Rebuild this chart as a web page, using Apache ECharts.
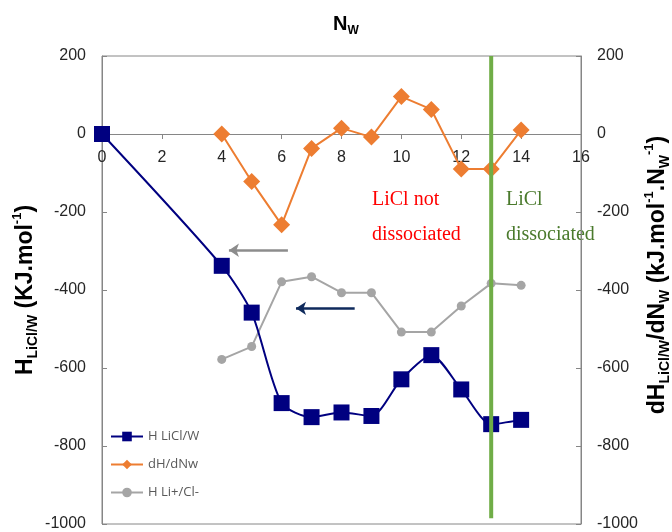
<!DOCTYPE html>
<html>
<head>
<meta charset="utf-8">
<script src="https://cdn.jsdelivr.net/npm/echarts@6/dist/echarts.min.js"></script>
<style>
  html, body { margin: 0; padding: 0; background: #fff; }
  #chart { width: 672px; height: 532px; }
</style>
</head>
<body>
<div id="chart"></div>
<script>
// data
const nwAll = [0, 4, 5, 6, 7, 8, 9, 10, 11, 12, 13, 14];
const hLiClW = [0, -338, -458, -690, -726, -714, -723, -629, -567, -655, -744, -733];
const nwFrom4 = [4, 5, 6, 7, 8, 9, 10, 11, 12, 13, 14];
const dHdNw = [0, -122, -233, -37, 15, -8, 96, 63, -90, -90, 10];
const hLiIons = [-578, -545, -379, -366, -407, -407, -508, -508, -441, -383, -388];
const dissociationNw = 13;
const seriesNames = ['H LiCl/W', 'dH/dNw', 'H Li+/Cl-'];

const pairs = (xs, ys) => xs.map((x, i) => [x, ys[i]]);

const axisGray = '#868686';
const tickFont = { fontFamily: 'Liberation Sans', fontSize: 16, color: '#262626' };

// grid box; the x axis sits on y = 0, so it is shifted up from the bottom edge
const gridTop = 56;
const gridBottom = 8;
const gridHeight = 532 - gridTop - gridBottom;
const yMin = -1000;
const yMax = 200;
const xAxisShift = -gridHeight * (0 - yMin) / (yMax - yMin);

const makeRich = size => ({
  b: { fontFamily: 'Liberation Sans', fontWeight: 'bold', fontSize: size, lineHeight: size + 6, color: '#000', verticalAlign: 'middle' },
  sub: { fontFamily: 'Liberation Sans', fontWeight: 'bold', fontSize: Math.round(size * 0.62), lineHeight: size + 6, color: '#000', verticalAlign: 'bottom' },
  sup: { fontFamily: 'Liberation Sans', fontWeight: 'bold', fontSize: Math.round(size * 0.58), lineHeight: size + 6, color: '#000', verticalAlign: 'top' },
});

const yAxisBase = {
  type: 'value',
  min: yMin,
  max: yMax,
  interval: 200,
  splitLine: { show: false },
  axisLine: { show: true, onZero: false, lineStyle: { color: axisGray } },
  axisTick: { show: true, inside: true, length: 5, lineStyle: { color: axisGray } },
  axisLabel: { ...tickFont, margin: 16, formatter: v => String(v) },
  nameLocation: 'middle',
  nameRotate: 90,
  nameMoveOverlap: false,
  nameTextStyle: { rich: makeRich(23) },
};

const chart = echarts.init(document.getElementById('chart'));

const option = {
  animation: false,
  title: {
    text: '{b|N}{sub|W}',
    left: 341,
    textAlign: 'center',
    top: 6,
    textStyle: { rich: makeRich(20) },
  },
  grid: {
    left: 102,
    right: 91,
    top: gridTop,
    bottom: gridBottom,
    outerBoundsMode: 'none',
    containLabel: false,
    show: true,
    borderColor: axisGray,
    borderWidth: 1,
  },
  legend: {
    orient: 'vertical',
    left: 105,
    top: 425,
    itemWidth: 32,
    itemHeight: 12,
    itemGap: 15,
    data: seriesNames,
    textStyle: { fontFamily: 'Open Sans', fontSize: 13, color: '#595959' },
  },
  xAxis: {
    type: 'value',
    position: 'bottom',
    offset: xAxisShift,
    min: 0,
    max: 16,
    interval: 2,
    splitLine: { show: false },
    axisLine: { onZero: false, lineStyle: { color: axisGray } },
    axisTick: { show: true, length: 5, lineStyle: { color: axisGray } },
    axisLabel: { ...tickFont, margin: 16 },
  },
  yAxis: [
    {
      ...yAxisBase,
      position: 'left',
      name: '{b|H}{sub|LiCl/W}{b| (KJ.mol}{sup|-1}{b|)}',
      nameGap: 62,
    },
    {
      ...yAxisBase,
      position: 'right',
      name: '{b|dH}{sub|LiCl/W}{b|/dN}{sub|W}{b| (kJ.mol}{sup|-1}{b|.N}{sub|W}{sup|-1}{b|)}',
      nameGap: 62,
      nameTextStyle: { rich: makeRich(23), padding: [0, 0, 0, 30] },
    },
  ],
  series: [
    {
      name: seriesNames[0],
      type: 'line',
      yAxisIndex: 0,
      data: pairs(nwAll, hLiClW),
      smooth: 0.25,
      symbol: 'rect',
      symbolSize: 16,
      z: 4,
      lineStyle: { color: '#000080', width: 2 },
      itemStyle: { color: '#000080' },
      markLine: {
        silent: true,
        symbol: ['none', 'arrow'],
        symbolSize: 10,
        label: { show: false },
        data: [
          [
            { coord: [6.21, -298], lineStyle: { color: '#8c8c8c', width: 2.5, type: 'solid' } },
            { coord: [4.24, -298] },
          ],
          [
            { coord: [8.44, -447], lineStyle: { color: '#0f2a5c', width: 2.5, type: 'solid' } },
            { coord: [6.48, -447] },
          ],
        ],
      },
    },
    {
      name: seriesNames[1],
      type: 'line',
      yAxisIndex: 1,
      data: pairs(nwFrom4, dHdNw),
      symbol: 'diamond',
      symbolSize: 17,
      z: 3,
      lineStyle: { color: '#ED7D31', width: 2 },
      itemStyle: { color: '#ED7D31' },
    },
    {
      name: seriesNames[2],
      type: 'line',
      yAxisIndex: 1,
      data: pairs(nwFrom4, hLiIons),
      symbol: 'circle',
      symbolSize: 9,
      z: 2,
      lineStyle: { color: '#A5A5A5', width: 2 },
      itemStyle: { color: '#A5A5A5' },
    },
    {
      // dissociation boundary
      name: 'boundary',
      type: 'line',
      yAxisIndex: 0,
      data: [[dissociationNw, 200], [dissociationNw, -985]],
      symbol: 'none',
      z: 5,
      silent: true,
      lineStyle: { color: '#70AD47', width: 4 },
    },
  ],
  graphic: [
    {
      type: 'text',
      left: 372,
      top: 182,
      style: {
        text: 'LiCl not\ndissociated',
        font: '20px "Liberation Serif"',
        lineHeight: 35,
        fill: '#FF0000',
      },
    },
    {
      type: 'text',
      left: 506,
      top: 182,
      style: {
        text: 'LiCl\ndissociated',
        font: '20px "Liberation Serif"',
        lineHeight: 35,
        fill: '#4A7A2C',
      },
    },
  ],
};

chart.setOption(option);
</script>
</body>
</html>
